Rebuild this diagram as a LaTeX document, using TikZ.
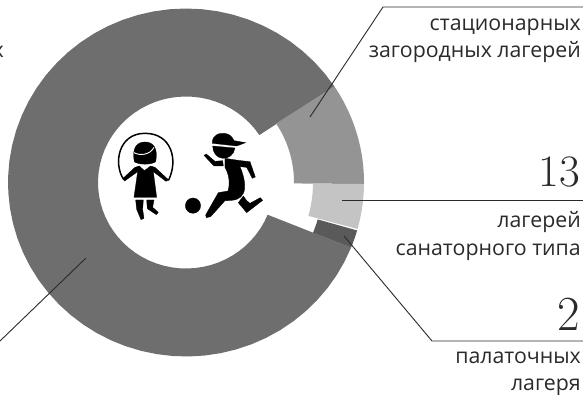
\documentclass[tikz,border=0pt]{standalone}
\usepackage{fontspec}
\newfontfamily\labelfont{Open Sans}
\newfontfamily\numfont{Latin Modern Roman}
\definecolor{bigdark}{HTML}{6E6E6E}
\definecolor{midgray}{HTML}{949494}
\definecolor{lightgray}{HTML}{C4C4C4}
\definecolor{smalldark}{HTML}{5A5A5A}
\definecolor{ink}{HTML}{2A2A2A}
\tikzset{
  lbl/.style={anchor=base east,inner sep=0pt,text=ink,font=\labelfont\fontsize{21.3}{26}\selectfont},
  num/.style={anchor=base east,inner sep=0pt,text=ink,font=\numfont\fontsize{45}{45}\selectfont},
  numbig/.style={anchor=base east,inner sep=0pt,text=ink,font=\numfont\fontsize{49}{49}\selectfont},
  leader/.style={draw=ink,line width=0.9pt},
  sil/.style={fill=black,draw=black,line width=0.3pt,line join=round}
}
\newcommand{\ringseg}[5]{% start, end, inner rx, inner ry, colour
  \fill[#5] plot[domain=#1:#2,samples=60] ({186+178*cos(\x)},{182.5-174*sin(\x)})
    -- plot[domain=#2:#1,samples=60] ({186+#3*cos(\x)},{182.5-#4*sin(\x)}) -- cycle;
}
\begin{document}
\begin{tikzpicture}[x=1pt,y=-1pt]
\useasboundingbox (0,0) rectangle (583,395);
% chart
\ringseg{33.5}{338}{88}{86}{bigdark}
\ringseg{-0.5}{33.5}{108}{107}{midgray}
\ringseg{-15.5}{-0.5}{127}{125}{lightgray}
\ringseg{-22}{-16}{137}{134}{smalldark}
% leader ends
\coordinate (a1) at (310,117);
\coordinate (a2) at (383,7);
\coordinate (a3) at (583,7);
\coordinate (b1) at (342,200.5);
\coordinate (b2) at (583,200.5);
\coordinate (c1) at (344,236);
\coordinate (c2) at (432,341);
\coordinate (c3) at (583,341);
\coordinate (d1) at (86,258);
\coordinate (d2) at (0,341);
\draw[leader] (a1) -- (a2) -- (a3);
\draw[leader] (b1) -- (b2);
\draw[leader] (c1) -- (c2) -- (c3);
\draw[leader] (d1) -- (d2);
% texts
\node[lbl] (t0) at (4,58) {х};
\node[lbl] (t1) at (581,31) {стационарных};
\node[lbl] (t2) at (581,58) {загородных лагерей};
\node[num] (n1) at (580,187) {13};
\node[lbl] (t3) at (581,228) {лагерей};
\node[lbl] (t4) at (581,255) {санаторного типа};
\node[numbig] (n2) at (580,330) {2};
\node[lbl] (t5) at (581,363) {палаточных};
\node[lbl] (t6) at (581,390) {лагеря};
% silhouettes, in coordinates of a 3x crop
\begin{scope}[shift={(90,110)},x=0.3333pt,y=-0.3333pt]
  % girl
  \draw[line width=1.5pt,line cap=round] (100,207) .. controls (70,160) and (85,70) .. (165,70)
     .. controls (245,70) and (265,150) .. (236,210);
  \fill[sil] (133,155) .. controls (125,115) and (140,96) .. (165,96)
     .. controls (190,96) and (205,115) .. (197,155) .. controls (185,165) and (145,165) .. (133,155) -- cycle;
  \draw[white,line width=0.9pt] (132,128) .. controls (150,138) and (180,135) .. (192,112);
  \fill[sil] (148,168) -- (163,182) -- (182,168) -- (195,172) -- (236,210) -- (228,214) -- (190,185)
     -- (200,262) -- (132,262) -- (143,185) -- (104,213) -- (98,206) -- (135,172) -- cycle;
  \fill[sil] (137,270) -- (160,270) -- (158,298) -- (162,325) -- (153,329) -- (140,298) -- cycle;
  \fill[sil] (170,270) -- (192,270) -- (188,292) -- (205,307) -- (199,314) -- (172,296) -- cycle;
  % ball
  \fill[sil] (309,287) circle[radius=23];
  % boy
  \fill[sil] (367,100) .. controls (365,75) and (390,65) .. (412,72) .. controls (425,76) and (430,88) .. (432,92)
     -- (467,98) -- (440,108) -- cycle;
  \fill[sil] (368,108) -- (435,114) .. controls (432,135) and (415,146) .. (398,145)
     .. controls (380,143) and (368,128) .. (368,108) -- cycle;
  \fill[sil] (342,136) -- (349,132) -- (375,154) -- (398,152) -- (400,168) -- (372,168) -- cycle;
  \fill[sil] (405,145) -- (452,152) -- (480,155) -- (496,201) -- (487,205) -- (470,172) -- (450,170)
     .. controls (465,205) and (468,235) .. (460,250) .. controls (452,268) and (435,272) .. (405,272)
     -- (362,320) -- (349,323) -- (347,315) -- (385,248) -- (414,243)
     .. controls (422,215) and (415,190) .. (405,172) -- cycle;
  \fill[sil] (460,258) -- (470,272) -- (480,280) -- (511,263) -- (518,271) -- (470,308) -- (445,278) -- cycle;
\end{scope}
\end{tikzpicture}
\end{document}
